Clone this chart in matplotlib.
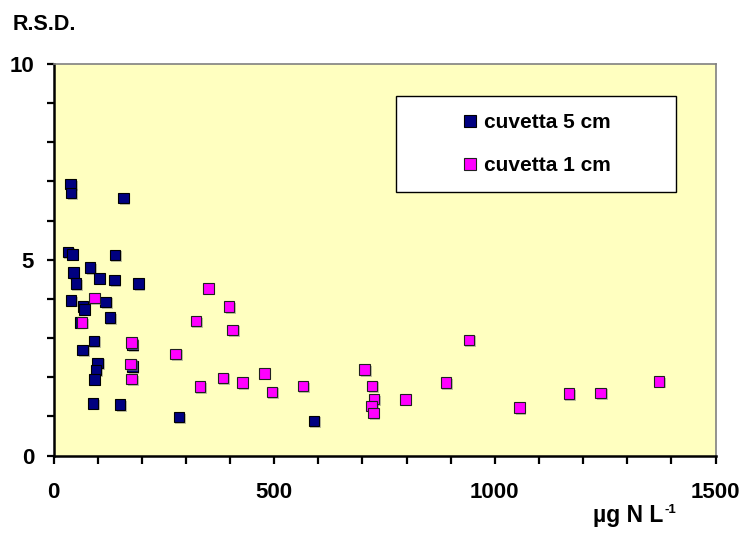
import matplotlib
matplotlib.use("Agg")
import matplotlib.pyplot as plt
import matplotlib.patheffects as pe
from matplotlib.patches import Rectangle

plt.rcParams["font.family"] = ["Liberation Sans", "DejaVu Sans"]
plt.rcParams["font.weight"] = "bold"

# cuvetta 5 cm (navy)
x_5cm = [39, 40, 158, 33, 43, 139, 45, 83, 104, 138, 192, 51, 40, 67, 70,
         118, 60, 128, 92, 66, 100, 96, 93, 90, 151, 284, 179, 179, 590]
y_5cm = [6.93, 6.71, 6.58, 5.20, 5.14, 5.12, 4.67, 4.80, 4.52, 4.48, 4.39,
         4.39, 3.96, 3.80, 3.73, 3.92, 3.40, 3.52, 2.93, 2.69, 2.36, 2.18,
         1.94, 1.33, 1.30, 0.98, 2.82, 2.27, 0.88]

# cuvetta 1 cm (magenta)
x_1cm = [93, 65, 177, 175, 177, 351, 323, 277, 332, 398, 406, 384, 428, 478,
         495, 565, 705, 722, 726, 721, 725, 797, 889, 941, 1056, 1168, 1240, 1372]
y_1cm = [4.02, 3.40, 2.88, 2.34, 1.95, 4.27, 3.43, 2.59, 1.76, 3.80, 3.21,
         1.98, 1.86, 2.10, 1.62, 1.77, 2.19, 1.78, 1.44, 1.26, 1.08, 1.43,
         1.86, 2.95, 1.22, 1.58, 1.60, 1.89]

labels = ["cuvetta 5 cm", "cuvetta 1 cm"]
x_ticks = [0, 500, 1000, 1500]
y_ticks = [0, 5, 10]

fig = plt.figure(figsize=(7.45, 5.39), dpi=100)
ax = fig.add_axes([53.5 / 745, 1 - 455.5 / 539, 662 / 745, 391.5 / 539])
ax.set_facecolor("#FFFFC0")

shadow = [pe.SimplePatchShadow(offset=(1.2, -1.2), shadow_rgbFace="#808080", alpha=0.5),
          pe.Normal()]
ax.plot(x_5cm, y_5cm, "s", ms=7.6, mfc="#000080", mec="#000000", mew=0.8,
        label=labels[0], path_effects=shadow, clip_on=False)
ax.plot(x_1cm, y_1cm, "s", ms=7.6, mfc="#FF00FF", mec="#202020", mew=0.8,
        label=labels[1], path_effects=shadow, clip_on=False)

ax.set_xlim(0, 1500)
ax.set_ylim(0, 10)
ax.set_xticks(x_ticks)
ax.set_xticks(range(0, 1501, 100), minor=True)
ax.set_yticks(y_ticks)
ax.set_yticks(range(0, 11), minor=True)
ax.tick_params(axis="x", which="both", direction="out", length=6, width=1.6, pad=13,
               labelsize=16)
ax.tick_params(axis="y", which="both", direction="out", length=5, width=1.6, pad=9,
               labelsize=16)

for s in ["left", "bottom"]:
    ax.spines[s].set_color("black")
    ax.spines[s].set_linewidth(1.8)
for s in ["top", "right"]:
    ax.spines[s].set_color("#808080")
    ax.spines[s].set_linewidth(1.2)

# legend box
ax.add_patch(Rectangle((0.517, 0.673), 0.423, 0.245, transform=ax.transAxes,
                       facecolor="white", edgecolor="black", linewidth=1.0, zorder=4))
leg = ax.legend(loc="center", bbox_to_anchor=(0.731, 0.7955), frameon=False,
                fontsize=15, handlelength=0.6, handletextpad=0.35, labelspacing=1.15,
                borderaxespad=0, markerscale=1.1)
leg.set_zorder(5)
for h in leg.legend_handles:
    h.set_path_effects([])

fig.text(12.7 / 745, 1 - 30 / 539, "R.S.D.", fontsize=15.5, fontweight="bold",
         ha="left", va="baseline")
xl = fig.text(592.7 / 745, 1 - 522.3 / 539, "µg N L", fontsize=16.5, fontweight="bold",
              ha="left", va="baseline")
fig.canvas.draw()
bb = xl.get_window_extent()
fig.text((bb.x1 + 1) / 745, 1 - 513 / 539, "-1", fontsize=9.5, fontweight="bold",
         ha="left", va="baseline")

fig.savefig("out.png", dpi=100)
